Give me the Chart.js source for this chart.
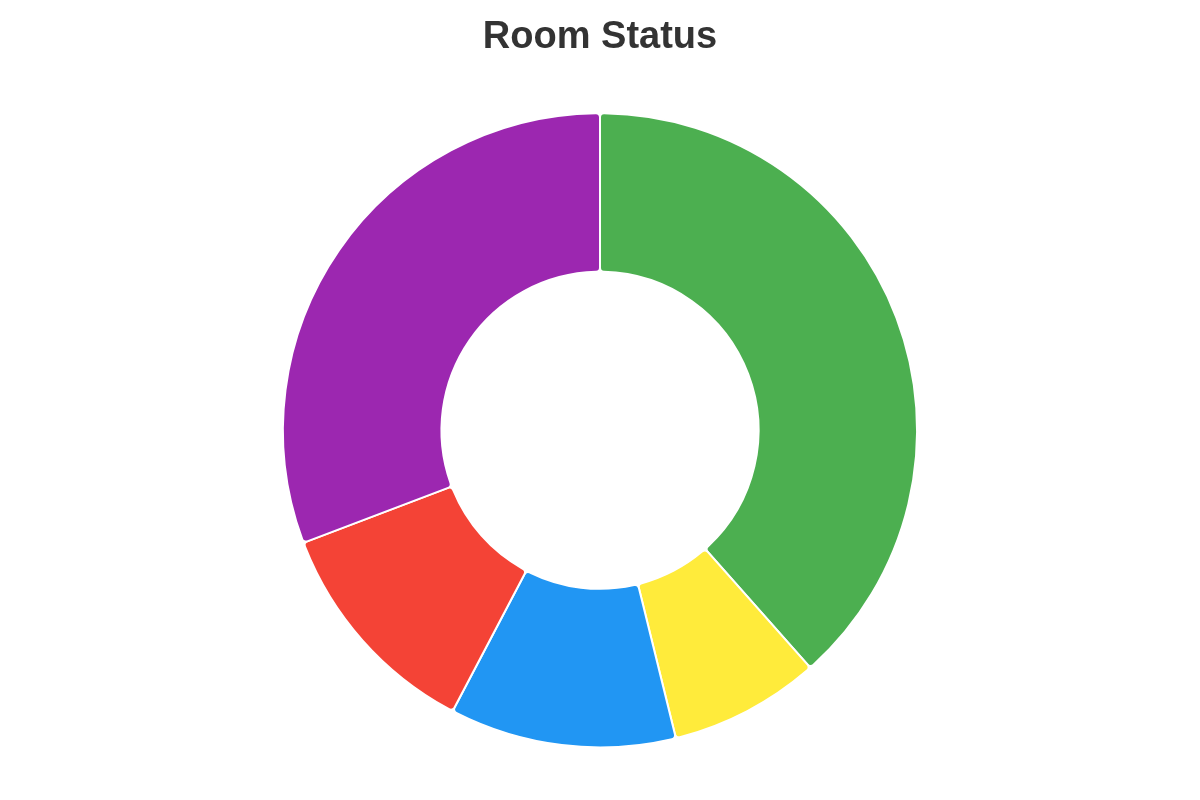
<!DOCTYPE html>
<html>
<head>
<meta charset="utf-8">
<script src="https://cdn.jsdelivr.net/npm/chart.js@4/dist/chart.umd.min.js"></script>
<style>
  html, body { margin: 0; padding: 0; background: #fff; }
  #wrap { width: 1200px; height: 800px; }
</style>
</head>
<body>
<div id="wrap"><canvas id="roomChart"></canvas></div>
<script>
// Room counts by status
const statusLabels = ['Available', 'Cleaning', 'Reserved', 'Maintenance', 'Occupied'];
const roomCounts = [10, 2, 3, 3, 8];
const statusColors = ['#4CAF50', '#FFEB3B', '#2196F3', '#F44336', '#9C27B0'];

const ctx = document.getElementById('roomChart');
new Chart(ctx, {
    type: 'doughnut',
    data: {
        labels: statusLabels,
        datasets: [{
            data: roomCounts,
            backgroundColor: statusColors,
            borderColor: '#ffffff',
            borderWidth: 2,
            borderRadius: 4
        }]
    },
    options: {
        responsive: true,
        maintainAspectRatio: false,
        animation: false,
        cutout: '50%',
        radius: '86%',
        plugins: {
            legend: { display: false },
            title: {
                display: true,
                text: 'Room Status',
                color: '#333333',
                font: { family: 'Liberation Sans, Arial, sans-serif', size: 38, weight: 'bold' },
                padding: { top: 15, bottom: 0 }
            }
        }
    }
});
</script>
</body>
</html>
